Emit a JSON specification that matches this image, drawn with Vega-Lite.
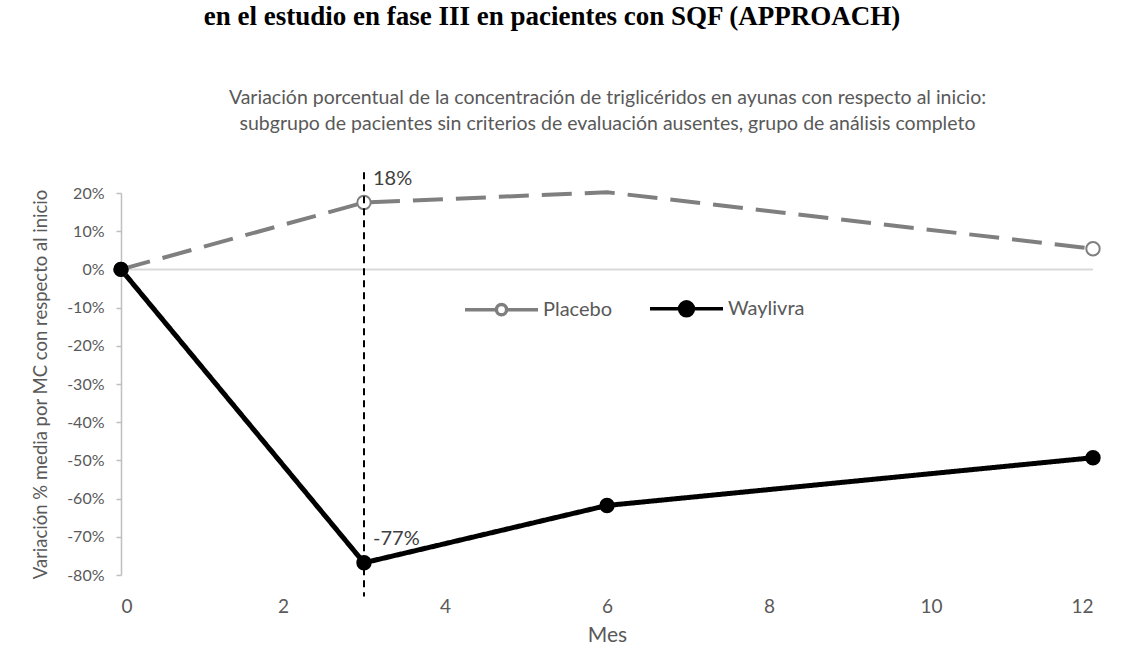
{
  "$schema": "https://vega.github.io/schema/vega-lite/v6.json",
  "width": 972,
  "height": 382,
  "autosize": {"type": "none"},
  "padding": {"left": 121, "top": 193, "right": 32, "bottom": 74},
  "background": "white",
  "title": {
    "text": "en el estudio en fase III en pacientes con SQF (APPROACH)",
    "font": "Liberation Serif",
    "fontSize": 27,
    "fontWeight": "bold",
    "color": "#000000",
    "anchor": "middle",
    "offset": 56,
    "dx": -55
  },
  "config": {
    "view": {"stroke": null},
    "font": "Lato",
    "axisY": {
      "values": [-80, -70, -60, -50, -40, -30, -20, -10, 0, 10, 20],
      "labelExpr": "datum.value + '%'",
      "grid": false,
      "domainColor": "#bfbfbf",
      "domainWidth": 1.5,
      "tickColor": "#bfbfbf",
      "tickSize": 5,
      "tickWidth": 1.5,
      "labelFont": "Lato",
      "labelFontSize": 16,
      "labelColor": "#595959",
      "labelPadding": 12,
      "titleFont": "Lato",
      "titleFontSize": 18.5,
      "titleColor": "#595959",
      "titleFontWeight": "normal",
      "titlePadding": 16
    },
    "legend": {
      "orient": "none",
      "legendX": 342,
      "legendY": 77,
      "direction": "horizontal",
      "labelFont": "Lato",
      "labelFontSize": 20,
      "labelColor": "#595959",
      "symbolSize": 5329,
      "symbolStrokeWidth": 3.5,
      "symbolOpacity": 1,
      "columnPadding": 30,
      "labelOffset": 3
    }
  },
  "datasets": {
    "main": [
      {"mes": 0, "valor": 0, "serie": "Placebo"},
      {"mes": 3, "valor": 17.5, "serie": "Placebo"},
      {"mes": 6, "valor": 20.2, "serie": "Placebo"},
      {"mes": 12, "valor": 5.4, "serie": "Placebo"},
      {"mes": 0, "valor": 0, "serie": "Waylivra"},
      {"mes": 3, "valor": -76.8, "serie": "Waylivra"},
      {"mes": 6, "valor": -61.8, "serie": "Waylivra"},
      {"mes": 12, "valor": -49.3, "serie": "Waylivra"}
    ],
    "etiquetas": [
      {"mes": 3, "valor": 17.5, "texto": "18%"},
      {"mes": 3, "valor": -76.8, "texto": "-77%"}
    ],
    "unico": [{"x": 1}]
  },
  "resolve": {"axis": {"x": "independent"}},
  "layer": [
    {
      "data": {"name": "unico"},
      "mark": {"type": "rule", "color": "#d9d9d9", "strokeWidth": 2},
      "encoding": {
        "y": {"datum": 0, "type": "quantitative", "title": "Variación % media por MC con respecto al  inicio"}
      }
    },
    {
      "data": {"name": "main"},
      "mark": {"type": "line", "strokeJoin": "round"},
      "encoding": {
        "x": {
          "field": "mes",
          "type": "quantitative",
          "scale": {"domain": [0, 12], "nice": false, "zero": false},
          "axis": {
            "orient": "bottom",
            "values": [0, 2, 4, 6, 8, 10, 12],
            "domain": false,
            "ticks": false,
            "tickSize": 0,
            "grid": false,
            "labelFont": "Lato",
            "labelFontSize": 19,
            "labelColor": "#595959",
            "labelPadding": 22,
            "title": "Mes",
            "titleFont": "Lato",
            "titleFontSize": 21,
            "titleColor": "#595959",
            "titleFontWeight": "normal",
            "titlePadding": 8
          }
        },
        "y": {
          "field": "valor",
          "type": "quantitative",
          "scale": {"domain": [-80, 20], "nice": false, "zero": false},
          "title": "Variación % media por MC con respecto al  inicio"
        },
        "color": {
          "field": "serie",
          "type": "nominal",
          "scale": {"domain": ["Waylivra", "Placebo"], "range": ["#000000", "#7f7f7f"]},
          "legend": null
        },
        "strokeDash": {
          "field": "serie",
          "type": "nominal",
          "scale": {"domain": ["Waylivra", "Placebo"], "range": [[1, 0], [30, 13]]},
          "legend": null
        },
        "strokeWidth": {
          "field": "serie",
          "type": "nominal",
          "scale": {"domain": ["Waylivra", "Placebo"], "range": [5, 4]},
          "legend": null
        }
      }
    },
    {
      "data": {"name": "main"},
      "transform": [{"filter": "!(datum.serie == 'Placebo' && datum.mes == 6)"}],
      "mark": {"type": "point", "filled": true, "size": 180, "strokeWidth": 2, "opacity": 1},
      "encoding": {
        "x": {
          "field": "mes",
          "type": "quantitative",
          "axis": {
            "orient": "top",
            "domain": false,
            "ticks": false,
            "labels": false,
            "grid": false,
            "title": [
              "Variación porcentual de la concentración de triglicéridos en ayunas con respecto al inicio:",
              "subgrupo de pacientes sin criterios de evaluación ausentes, grupo de análisis completo"
            ],
            "titleFont": "Lato",
            "titleFontSize": 19.5,
            "titleColor": "#595959",
            "titleFontWeight": "normal",
            "titleLineHeight": 26,
            "titlePadding": 60
          }
        },
        "y": {"field": "valor", "type": "quantitative", "title": "Variación % media por MC con respecto al  inicio"},
        "fill": {
          "field": "serie",
          "type": "nominal",
          "scale": {"domain": ["Placebo", "Waylivra"], "range": ["#ffffff", "#000000"]},
          "title": null
        },
        "stroke": {
          "field": "serie",
          "type": "nominal",
          "scale": {"domain": ["Placebo", "Waylivra"], "range": ["#7f7f7f", "#000000"]},
          "title": null
        }
      }
    },
    {
      "data": {"name": "unico"},
      "mark": {"type": "rule", "color": "#000000", "strokeWidth": 2, "strokeDash": [7, 5]},
      "encoding": {
        "x": {"datum": 3, "type": "quantitative", "axis": null},
        "y": {"datum": 25.4, "type": "quantitative", "title": "Variación % media por MC con respecto al  inicio"},
        "y2": {"datum": -85.6}
      }
    },
    {
      "data": {"name": "etiquetas"},
      "mark": {"type": "text", "align": "left", "baseline": "middle", "dx": 9, "dy": -24, "fontSize": 20, "font": "Lato", "color": "#404040"},
      "encoding": {
        "x": {"field": "mes", "type": "quantitative", "axis": null},
        "y": {"field": "valor", "type": "quantitative", "title": "Variación % media por MC con respecto al  inicio"},
        "text": {"field": "texto", "type": "nominal"}
      }
    },
    {
      "data": {"name": "main"},
      "transform": [{"filter": "false"}],
      "mark": {"type": "point", "filled": true, "strokeWidth": 3.5, "opacity": 1},
      "encoding": {
        "shape": {
          "field": "serie",
          "type": "nominal",
          "scale": {
            "domain": ["Placebo", "Waylivra"],
            "range": [
              "M-1,0H-0.14M0.14,0H1M0.14,0A0.14,0.14,0,1,1,-0.14,0A0.14,0.14,0,1,1,0.14,0",
              "M-1,0H1M0.19,0A0.19,0.19,0,1,1,-0.19,0A0.19,0.19,0,1,1,0.19,0"
            ]
          },
          "title": null
        },
        "fill": {"field": "serie", "type": "nominal", "title": null},
        "stroke": {"field": "serie", "type": "nominal", "title": null}
      }
    }
  ]
}
